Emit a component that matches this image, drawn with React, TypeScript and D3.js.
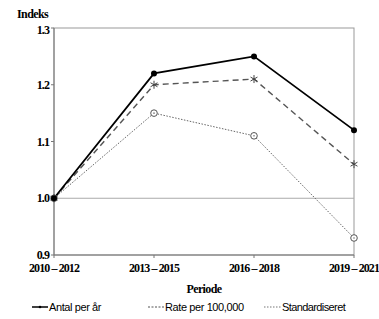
import React from "react";
import * as d3 from "d3";

const periods = ["2010 \u2013 2012", "2013 \u2013 2015", "2016 \u2013 2018", "2019 \u2013 2021"];
const antal = [1.0, 1.22, 1.25, 1.12];
const rate = [1.0, 1.2, 1.21, 1.06];
const standard = [1.0, 1.15, 1.11, 0.93];
const yTicks = [0.9, 1.0, 1.1, 1.2, 1.3];
const seriesNames = ["Antal per år", "Rate per 100,000", "Standardiseret"];

const W = 379, H = 319;
const left = 54, right = 354, top = 28, bottom = 255;

export default function App() {
  const x = d3.scalePoint<string>().domain(periods).range([left, right]);
  const y = d3.scaleLinear().domain([0.9, 1.3]).range([bottom, top]);
  const line = d3.line<number>().x((_, i) => x(periods[i])!).y((d) => y(d));
  const serif = "'Liberation Serif', 'DejaVu Serif', serif";
  const sans = "'Liberation Sans', Arial, sans-serif";

  const star = (cx: number, cy: number, r: number, key: string | number) => (
    <g key={key} stroke="#444" strokeWidth={1}>
      {[0, 60, 120].map((a) => {
        const rad = (a * Math.PI) / 180;
        return (
          <line key={a} x1={cx - r * Math.sin(rad)} y1={cy - r * Math.cos(rad)} x2={cx + r * Math.sin(rad)} y2={cy + r * Math.cos(rad)} />
        );
      })}
    </g>
  );

  const legendY = 310;
  return (
    <svg width={W} height={H} style={{ position: "absolute", left: 0, top: 0, background: "#fff" }}>
      {/* frame */}
      <rect x={left} y={top} width={right - left} height={bottom - top} fill="none" stroke="#999" strokeWidth={1} />
      <line x1={left} x2={right} y1={y(1.0)} y2={y(1.0)} stroke="#aaa" strokeWidth={1} />
      <line x1={left} x2={left} y1={top} y2={bottom} stroke="#777" strokeWidth={1} />
      <line x1={left} x2={right} y1={bottom} y2={bottom} stroke="#777" strokeWidth={1} />
      {/* y ticks */}
      {yTicks.map((t) => (
        <g key={t}>
          <line x1={left - 3} x2={left} y1={y(t)} y2={y(t)} stroke="#777" />
          <text x={left - 5} y={y(t) + (t === 1.3 ? 5.5 : 4)} textAnchor="end" fontFamily={serif} fontWeight="bold" fontSize={12} letterSpacing={-0.9}>
            {t.toFixed(1)}
          </text>
        </g>
      ))}
      {/* x ticks */}
      {periods.map((p) => (
        <g key={p}>
          <line x1={x(p)} x2={x(p)} y1={bottom} y2={bottom + 3} stroke="#777" />
          <text x={x(p)} y={bottom + 17} textAnchor="middle" fontFamily={serif} fontWeight="bold" fontSize={12} letterSpacing={-0.9}>
            {p}
          </text>
        </g>
      ))}
      <text x={17} y={18} fontFamily={serif} fontWeight="bold" fontSize={12} letterSpacing={-0.6}>Indeks</text>
      <text x={(left + right) / 2} y={293} textAnchor="middle" fontFamily={serif} fontWeight="bold" fontSize={12} letterSpacing={-0.6}>Periode</text>

      {/* series */}
      <path d={line(standard)!} fill="none" stroke="#666" strokeWidth={1} strokeDasharray="1.5,1.5" />
      <path d={line(rate)!} fill="none" stroke="#555" strokeWidth={1.4} strokeDasharray="6,4" />
      <path d={line(antal)!} fill="none" stroke="#000" strokeWidth={1.8} />
      {standard.map((v, i) => (
        <g key={i}>
          <circle cx={x(periods[i])} cy={y(v)} r={3.3} fill="#fff" stroke="#555" strokeWidth={1} />
          <circle cx={x(periods[i])} cy={y(v)} r={0.8} fill="#777" />
        </g>
      ))}
      {rate.map((v, i) => star(x(periods[i])!, y(v), 4, i))}
      {antal.map((v, i) => (
        <circle key={i} cx={x(periods[i])} cy={y(v)} r={3} fill="#000" />
      ))}

      {/* legend */}
      <g>
        <line x1={32} x2={48} y1={legendY - 3} y2={legendY - 3} stroke="#000" strokeWidth={1.5} />
        <circle cx={40} cy={legendY - 3} r={1.3} fill="#000" />
        <text x={49} y={legendY + 1} fontFamily={sans} fontSize={11} letterSpacing={-0.4}>{seriesNames[0]}</text>

        <line x1={148} x2={164} y1={legendY - 3} y2={legendY - 3} stroke="#555" strokeWidth={1.2} strokeDasharray="2,1.5" />
        <text x={165} y={legendY + 1} fontFamily={sans} fontSize={11} letterSpacing={-0.4}>{seriesNames[1]}</text>

        <line x1={264} x2={281} y1={legendY - 3} y2={legendY - 3} stroke="#777" strokeWidth={1.2} strokeDasharray="1.5,1.5" />
        <text x={282} y={legendY + 1} fontFamily={sans} fontSize={11} letterSpacing={-0.6}>{seriesNames[2]}</text>
      </g>
    </svg>
  );
}
